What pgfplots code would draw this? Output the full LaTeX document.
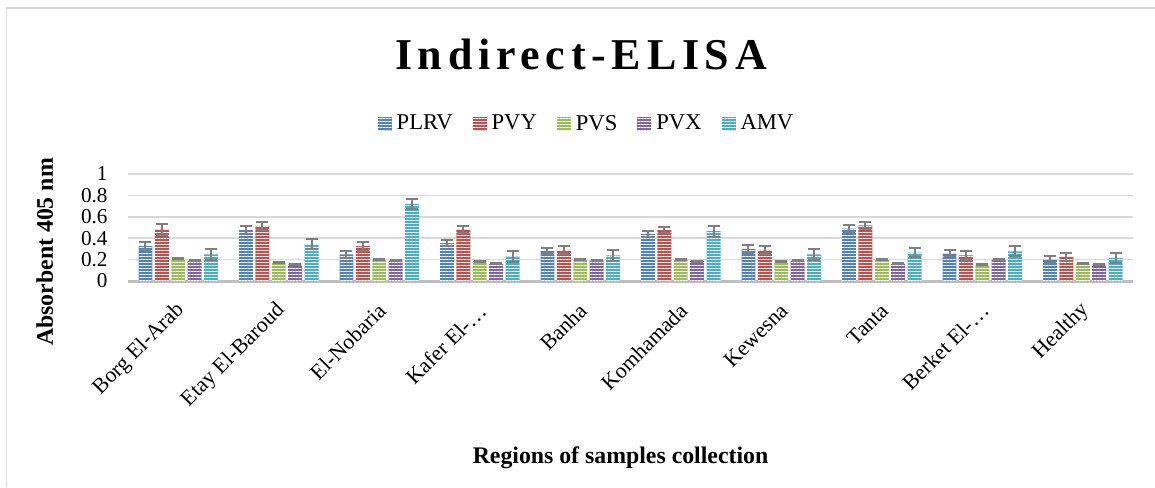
\documentclass[border=0pt]{standalone}
\usepackage{fontspec}
\setmainfont{Liberation Serif}
\usepackage{pgfplots}
\usepackage{pgfplotstable}
\pgfplotsset{compat=1.18}
\usetikzlibrary{patterns.meta}

\definecolor{cPLRV}{HTML}{4F81BD}
\definecolor{cPVY}{HTML}{C0504D}
\definecolor{cPVS}{HTML}{9BBB59}
\definecolor{cPVX}{HTML}{8064A2}
\definecolor{cAMV}{HTML}{4BACC6}
\definecolor{gridc}{HTML}{D9D9D9}
\definecolor{axisc}{HTML}{BFBFBF}
\definecolor{errc}{HTML}{7F7F7F}

\pgfplotstableread{
x PLRV ePLRV PVY ePVY PVS ePVS PVX ePVX AMV eAMV
0 0.325 0.035 0.480 0.050 0.210 0.005 0.190 0.005 0.250 0.050
1 0.475 0.035 0.515 0.035 0.175 0.005 0.153 0.005 0.345 0.050
2 0.250 0.035 0.325 0.040 0.200 0.005 0.190 0.005 0.720 0.045
3 0.355 0.030 0.480 0.035 0.185 0.005 0.160 0.005 0.230 0.055
4 0.280 0.030 0.290 0.040 0.200 0.005 0.190 0.005 0.240 0.050
5 0.440 0.030 0.475 0.030 0.200 0.005 0.185 0.005 0.465 0.050
6 0.300 0.035 0.290 0.035 0.180 0.005 0.190 0.005 0.250 0.050
7 0.490 0.030 0.520 0.035 0.200 0.005 0.160 0.005 0.265 0.045
8 0.255 0.035 0.240 0.040 0.153 0.005 0.200 0.005 0.278 0.045
9 0.200 0.035 0.225 0.035 0.163 0.005 0.153 0.005 0.216 0.050
}\data

\pgfplotsset{
  bstyle/.style={draw=none, fill=#1,
    postaction={fill opacity=0.25, pattern={Lines[angle=0,distance=1.5pt,line width=0.45pt]}, pattern color=white},
    legend image code/.code={\fill[#1] (0pt,-3.5pt) rectangle (7pt,3.5pt);},
    error bars/y dir=both, error bars/y explicit,
    error bars/error bar style={draw=errc, line width=1pt},
    error bars/error mark options={rotate=90, mark size=3pt, draw=errc, line width=1pt}},
}

\begin{document}
\begin{tikzpicture}
\useasboundingbox (-64pt,-103pt) rectangle (513.5pt,140.5pt);
\draw[color=gridc, line width=0.75pt] (-60.75pt,-103pt) -- (-60.75pt,136.5pt) -- (513.5pt,136.5pt);
\begin{axis}[
  at={(0,0)}, anchor=south west,
  scale only axis, width=502.5pt, height=53.5pt,
  xmin=-0.5, xmax=9.5, ymin=0, ymax=1,
  ybar, bar width=0.139,
  xtick={0,...,9},
  xticklabels={Borg El-Arab, Etay El-Baroud, El-Nobaria, Kafer El-…, Banha, Komhamada, Kewesna, Tanta, Berket El-…, Healthy},
  ytick={0,0.2,0.4,0.6,0.8,1},
  ymajorgrids, grid style={draw=gridc, line width=0.75pt},
  major tick length=0pt,
  axis x line*=bottom, axis y line*=left,
  x axis line style={draw=axisc, line width=1.5pt},
  y axis line style={draw=none},
  tick label style={font=\fontsize{10.6}{12}\selectfont},
  xticklabel style={font=\fontsize{10.9}{12}\selectfont},
  /pgf/number format/assume math mode=true,
  yticklabel style={anchor=east, inner sep=0pt, xshift=-10pt},
  xticklabel style={xshift=1.5pt, yshift=-13pt, rotate=45, anchor=east, inner sep=0pt},
  legend columns=5,
  legend style={at={(0.4577,1.467)}, anchor=center, draw=none, fill=none,
    font=\fontsize{11.3}{13}\selectfont,
    /tikz/every even column/.append style={column sep=7.5pt},
    nodes={inner xsep=2.5pt}},
]
\addplot[bar shift=-0.326, bstyle=cPLRV] table[x=x, y=PLRV, y error=ePLRV]{\data};
\addplot[bar shift=-0.163, bstyle=cPVY] table[x=x, y=PVY, y error=ePVY]{\data};
\addplot[bar shift=0, bstyle=cPVS] table[x=x, y=PVS, y error=ePVS]{\data};
\addplot[bar shift=0.163, bstyle=cPVX] table[x=x, y=PVX, y error=ePVX]{\data};
\addplot[bar shift=0.326, bstyle=cAMV] table[x=x, y=AMV, y error=eAMV]{\data};
\legend{PLRV, PVY, PVS, PVX, AMV}
\end{axis}
\node[anchor=base, font=\fontsize{22}{26}\selectfont\bfseries\addfontfeatures{LetterSpace=13}] at (226.5pt,105.5pt) {Indirect-ELISA};
\node[anchor=base, font=\fontsize{11.9}{14}\selectfont\bfseries] at (246.25pt,-91pt) {Regions of samples collection};
\node[rotate=90, anchor=base, font=\fontsize{11.9}{14}\selectfont\bfseries] at (-37.5pt,14.5pt) {Absorbent 405 nm};
\end{tikzpicture}
\end{document}
